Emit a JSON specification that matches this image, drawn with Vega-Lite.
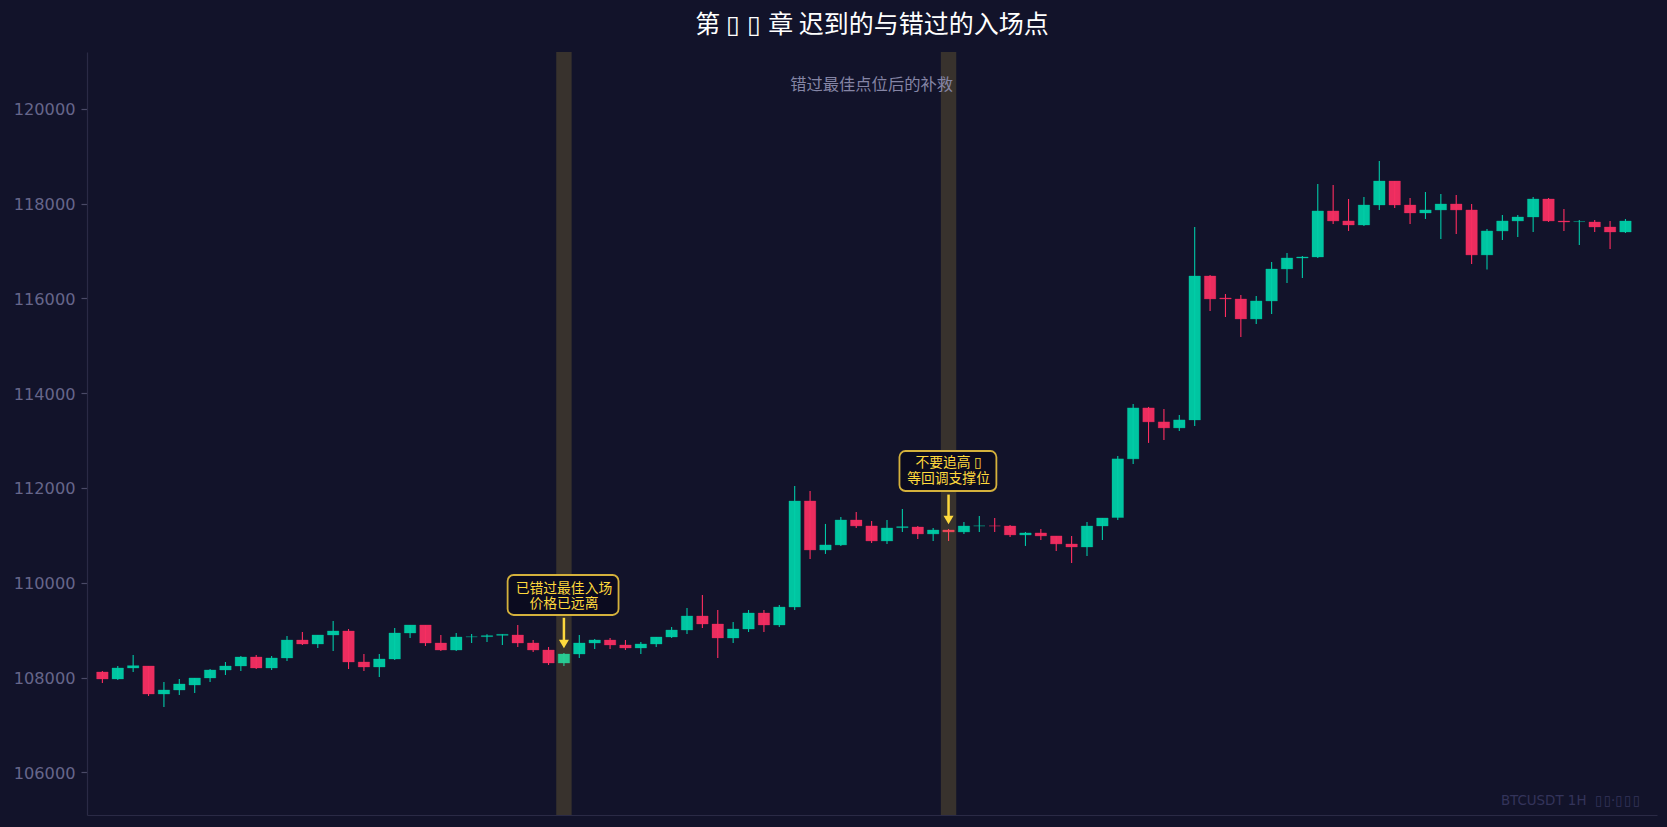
{
  "$schema": "https://vega.github.io/schema/vega-lite/v6.json",
  "width": 1570,
  "height": 763,
  "autosize": {"type": "none"},
  "padding": {"left": 87, "top": 52, "right": 10, "bottom": 12},
  "background": "#12132a",
  "title": {
    "text": "第 ▯\u200a ▯\u200a 章 迟到的与错过的入场点",
    "font": "Noto Sans CJK SC",
    "fontSize": 25,
    "fontWeight": "normal",
    "color": "#ffffff",
    "anchor": "middle",
    "offset": 14
  },
  "config": {"view": {"stroke": null}},
  "datasets": {
    "candles": [
      {"i": 0, "open": 108116, "high": 108137, "low": 107884, "close": 107969},
      {"i": 1, "open": 107969, "high": 108243, "low": 107948, "close": 108201},
      {"i": 2, "open": 108201, "high": 108475, "low": 108116, "close": 108250},
      {"i": 3, "open": 108243, "high": 108243, "low": 107610, "close": 107652},
      {"i": 4, "open": 107652, "high": 107906, "low": 107378, "close": 107737},
      {"i": 5, "open": 107737, "high": 107969, "low": 107631, "close": 107863},
      {"i": 6, "open": 107842, "high": 107990, "low": 107673, "close": 107990},
      {"i": 7, "open": 107990, "high": 108180, "low": 107906, "close": 108159},
      {"i": 8, "open": 108159, "high": 108327, "low": 108053, "close": 108243},
      {"i": 9, "open": 108243, "high": 108454, "low": 108137, "close": 108433},
      {"i": 10, "open": 108433, "high": 108475, "low": 108180, "close": 108201},
      {"i": 11, "open": 108201, "high": 108454, "low": 108159, "close": 108412},
      {"i": 12, "open": 108412, "high": 108876, "low": 108348, "close": 108791},
      {"i": 13, "open": 108791, "high": 108960, "low": 108686, "close": 108707},
      {"i": 14, "open": 108707, "high": 108897, "low": 108623, "close": 108897},
      {"i": 15, "open": 108897, "high": 109192, "low": 108559, "close": 108981},
      {"i": 16, "open": 108981, "high": 109023, "low": 108180, "close": 108327},
      {"i": 17, "open": 108327, "high": 108496, "low": 108137, "close": 108222},
      {"i": 18, "open": 108222, "high": 108496, "low": 108011, "close": 108391},
      {"i": 19, "open": 108391, "high": 109044, "low": 108369, "close": 108939},
      {"i": 20, "open": 108939, "high": 109108, "low": 108833, "close": 109108},
      {"i": 21, "open": 109108, "high": 109108, "low": 108665, "close": 108728},
      {"i": 22, "open": 108728, "high": 108897, "low": 108559, "close": 108580},
      {"i": 23, "open": 108580, "high": 108939, "low": 108559, "close": 108855},
      {"i": 24, "open": 108860, "high": 108918, "low": 108728, "close": 108860},
      {"i": 25, "open": 108862, "high": 108911, "low": 108749, "close": 108883},
      {"i": 26, "open": 108890, "high": 108911, "low": 108686, "close": 108911},
      {"i": 27, "open": 108897, "high": 109108, "low": 108644, "close": 108728},
      {"i": 28, "open": 108728, "high": 108791, "low": 108538, "close": 108580},
      {"i": 29, "open": 108580, "high": 108644, "low": 108264, "close": 108306},
      {"i": 30, "open": 108306, "high": 108517, "low": 108243, "close": 108496},
      {"i": 31, "open": 108496, "high": 108897, "low": 108412, "close": 108728},
      {"i": 32, "open": 108728, "high": 108813, "low": 108602, "close": 108791},
      {"i": 33, "open": 108791, "high": 108834, "low": 108602, "close": 108686},
      {"i": 34, "open": 108686, "high": 108791, "low": 108580, "close": 108623},
      {"i": 35, "open": 108623, "high": 108749, "low": 108496, "close": 108707},
      {"i": 36, "open": 108707, "high": 108855, "low": 108644, "close": 108855},
      {"i": 37, "open": 108855, "high": 109066, "low": 108834, "close": 109002},
      {"i": 38, "open": 109002, "high": 109466, "low": 108918, "close": 109298},
      {"i": 39, "open": 109298, "high": 109740, "low": 109045, "close": 109129},
      {"i": 40, "open": 109129, "high": 109424, "low": 108412, "close": 108834},
      {"i": 41, "open": 108834, "high": 109171, "low": 108728, "close": 109023},
      {"i": 42, "open": 109023, "high": 109424, "low": 108960, "close": 109361},
      {"i": 43, "open": 109361, "high": 109424, "low": 108960, "close": 109108},
      {"i": 44, "open": 109108, "high": 109530, "low": 109066, "close": 109487},
      {"i": 45, "open": 109487, "high": 112041, "low": 109424, "close": 111725},
      {"i": 46, "open": 111725, "high": 111936, "low": 110502, "close": 110691},
      {"i": 47, "open": 110691, "high": 111240, "low": 110607, "close": 110797},
      {"i": 48, "open": 110797, "high": 111387, "low": 110776, "close": 111324},
      {"i": 49, "open": 111324, "high": 111493, "low": 111155, "close": 111198},
      {"i": 50, "open": 111198, "high": 111303, "low": 110839, "close": 110881},
      {"i": 51, "open": 110881, "high": 111324, "low": 110818, "close": 111155},
      {"i": 52, "open": 111162, "high": 111556, "low": 111071, "close": 111183},
      {"i": 53, "open": 111176, "high": 111197, "low": 110923, "close": 111029},
      {"i": 54, "open": 111029, "high": 111155, "low": 110881, "close": 111113},
      {"i": 55, "open": 111113, "high": 111134, "low": 110881, "close": 111071},
      {"i": 56, "open": 111071, "high": 111282, "low": 111029, "close": 111197},
      {"i": 57, "open": 111200, "high": 111408, "low": 111071, "close": 111200},
      {"i": 58, "open": 111199, "high": 111366, "low": 111071, "close": 111198},
      {"i": 59, "open": 111197, "high": 111218, "low": 110966, "close": 111008},
      {"i": 60, "open": 111008, "high": 111071, "low": 110776, "close": 111050},
      {"i": 61, "open": 111050, "high": 111134, "low": 110902, "close": 110987},
      {"i": 62, "open": 110987, "high": 110987, "low": 110670, "close": 110818},
      {"i": 63, "open": 110817, "high": 110986, "low": 110417, "close": 110754},
      {"i": 64, "open": 110754, "high": 111281, "low": 110564, "close": 111197},
      {"i": 65, "open": 111197, "high": 111366, "low": 110902, "close": 111366},
      {"i": 66, "open": 111375, "high": 112676, "low": 111326, "close": 112613},
      {"i": 67, "open": 112613, "high": 113773, "low": 112507, "close": 113688},
      {"i": 68, "open": 113688, "high": 113709, "low": 112950, "close": 113393},
      {"i": 69, "open": 113393, "high": 113667, "low": 113013, "close": 113266},
      {"i": 70, "open": 113266, "high": 113541, "low": 113203, "close": 113435},
      {"i": 71, "open": 113435, "high": 117506, "low": 113309, "close": 116472},
      {"i": 72, "open": 116472, "high": 116493, "low": 115734, "close": 115987},
      {"i": 73, "open": 116008, "high": 116092, "low": 115607, "close": 115987},
      {"i": 74, "open": 115987, "high": 116071, "low": 115186, "close": 115565},
      {"i": 75, "open": 115565, "high": 116050, "low": 115460, "close": 115945},
      {"i": 76, "open": 115945, "high": 116767, "low": 115671, "close": 116620},
      {"i": 77, "open": 116620, "high": 116957, "low": 116325, "close": 116852},
      {"i": 78, "open": 116852, "high": 116895, "low": 116430, "close": 116873},
      {"i": 79, "open": 116873, "high": 118413, "low": 116852, "close": 117844},
      {"i": 80, "open": 117844, "high": 118392, "low": 117569, "close": 117633},
      {"i": 81, "open": 117633, "high": 118097, "low": 117422, "close": 117548},
      {"i": 82, "open": 117548, "high": 118139, "low": 117527, "close": 117970},
      {"i": 83, "open": 117970, "high": 118898, "low": 117865, "close": 118476},
      {"i": 84, "open": 118476, "high": 118476, "low": 117907, "close": 117970},
      {"i": 85, "open": 117970, "high": 118118, "low": 117569, "close": 117801},
      {"i": 86, "open": 117801, "high": 118244, "low": 117675, "close": 117865},
      {"i": 87, "open": 117865, "high": 118202, "low": 117253, "close": 117991},
      {"i": 88, "open": 117991, "high": 118181, "low": 117359, "close": 117865},
      {"i": 89, "open": 117865, "high": 117991, "low": 116726, "close": 116916},
      {"i": 90, "open": 116916, "high": 117464, "low": 116610, "close": 117422},
      {"i": 91, "open": 117422, "high": 117759, "low": 117232, "close": 117633},
      {"i": 92, "open": 117633, "high": 117759, "low": 117295, "close": 117717},
      {"i": 93, "open": 117717, "high": 118139, "low": 117401, "close": 118097},
      {"i": 94, "open": 118097, "high": 118118, "low": 117612, "close": 117633},
      {"i": 95, "open": 117632, "high": 117885, "low": 117421, "close": 117611},
      {"i": 96, "open": 117620, "high": 117653, "low": 117126, "close": 117620},
      {"i": 97, "open": 117611, "high": 117653, "low": 117400, "close": 117506},
      {"i": 98, "open": 117506, "high": 117632, "low": 117042, "close": 117400},
      {"i": 99, "open": 117400, "high": 117675, "low": 117379, "close": 117632}
    ],
    "zones": [
      {"start": 29.5, "end": 30.5},
      {"start": 54.5, "end": 55.5}
    ]
  },
  "layer": [
    {
      "data": {"name": "candles"},
      "mark": {"type": "rule", "strokeWidth": 1.1},
      "encoding": {
        "x": {
          "field": "i",
          "type": "quantitative",
          "scale": {"domain": [-1, 101.05], "nice": false, "zero": false, "padding": 0},
          "axis": {
            "title": null,
            "labels": false,
            "ticks": false,
            "grid": false,
            "domainColor": "#2a2a45",
            "domainWidth": 1.2
          }
        },
        "y": {
          "field": "low",
          "type": "quantitative",
          "scale": {"domain": [105099, 121198], "nice": false, "zero": false},
          "axis": {
            "title": null,
            "values": [106000, 108000, 110000, 112000, 114000, 116000, 118000, 120000],
            "format": "d",
            "grid": false,
            "labelFont": "DejaVu Sans",
            "labelFontSize": 16.2,
            "labelColor": "#66668a",
            "labelPadding": 6,
            "labelOffset": 1,
            "tickColor": "#4a4a66",
            "tickSize": 6,
            "tickWidth": 1.2,
            "domainColor": "#2a2a45",
            "domainWidth": 1.2
          }
        },
        "y2": {"field": "high"},
        "color": {
          "condition": {"test": "datum.close >= datum.open", "value": "#00c9a7"},
          "value": "#ff2d60"
        }
      }
    },
    {
      "data": {"name": "candles"},
      "mark": {"type": "bar", "width": 11.5, "opacity": 0.95, "strokeWidth": 1, "strokeOpacity": 0.3},
      "encoding": {
        "x": {"field": "i", "type": "quantitative"},
        "y": {"field": "open", "type": "quantitative"},
        "y2": {"field": "close"},
        "fill": {
          "condition": {"test": "datum.close >= datum.open", "value": "#00cfa8"},
          "value": "#f72f62"
        },
        "stroke": {
          "condition": {"test": "datum.close >= datum.open", "value": "#00cfa8"},
          "value": "#f72f62"
        }
      }
    },
    {
      "data": {"name": "zones"},
      "mark": {"type": "rect", "color": "#ffd93d", "opacity": 0.16},
      "encoding": {
        "x": {"field": "start", "type": "quantitative"},
        "x2": {"field": "end"}
      }
    },
    {
      "data": {"values": [{"label": "错过最佳点位后的补救"}]},
      "mark": {
        "type": "text",
        "font": "Noto Sans CJK SC",
        "fontSize": 16.3,
        "color": "#8585a5",
        "align": "center",
        "baseline": "middle"
      },
      "encoding": {
        "x": {"datum": 50},
        "y": {"datum": 120500},
        "text": {"field": "label"}
      }
    },
    {
      "data": {"values": [{"label": "BTCUSDT 1H\u00a0\u00a0▯\u200a▯·▯\u200a▯\u200a▯"}]},
      "mark": {
        "type": "text",
        "font": "DejaVu Sans",
        "fontSize": 13.4,
        "color": "#34345a",
        "align": "right",
        "baseline": "middle"
      },
      "encoding": {
        "x": {"datum": 99.95},
        "y": {"datum": 105394},
        "text": {"field": "label"}
      }
    },
    {
      "data": {"values": [{}]},
      "mark": {
        "type": "rect",
        "fill": "#0b0b1f",
        "stroke": "#d4b13c",
        "strokeWidth": 1.8,
        "cornerRadius": 6
      },
      "encoding": {
        "x": {"datum": 26.34},
        "x2": {"datum": 33.55},
        "y": {"datum": 110163},
        "y2": {"datum": 109319}
      }
    },
    {
      "data": {"values": [{}]},
      "mark": {
        "type": "rect",
        "fill": "#0b0b1f",
        "stroke": "#d4b13c",
        "strokeWidth": 1.8,
        "cornerRadius": 6
      },
      "encoding": {
        "x": {"datum": 51.81},
        "x2": {"datum": 58.11},
        "y": {"datum": 112779},
        "y2": {"datum": 111935}
      }
    },
    {
      "data": {"values": [{"label": "已错过最佳入场\n价格已远离"}]},
      "mark": {
        "type": "text",
        "font": "Noto Sans CJK SC",
        "fontSize": 13.8,
        "lineBreak": "\n",
        "lineHeight": 15,
        "color": "#ffd93d",
        "align": "center",
        "baseline": "middle"
      },
      "encoding": {
        "x": {"datum": 30},
        "y": {"datum": 109867},
        "text": {"field": "label"}
      }
    },
    {
      "data": {"values": [{"label": "不要追高 ▯\n等回调支撑位"}]},
      "mark": {
        "type": "text",
        "font": "Noto Sans CJK SC",
        "fontSize": 13.8,
        "lineBreak": "\n",
        "lineHeight": 16,
        "color": "#ffd93d",
        "align": "center",
        "baseline": "middle"
      },
      "encoding": {
        "x": {"datum": 55},
        "y": {"datum": 112526},
        "text": {"field": "label"}
      }
    },
    {
      "data": {"values": [{}]},
      "mark": {"type": "rule", "color": "#ffd93d", "strokeWidth": 2.5},
      "encoding": {
        "x": {"datum": 30},
        "y": {"datum": 109260},
        "y2": {"datum": 108791}
      }
    },
    {
      "data": {"values": [{}]},
      "mark": {"type": "rule", "color": "#ffd93d", "strokeWidth": 2.5},
      "encoding": {
        "x": {"datum": 55},
        "y": {"datum": 111860},
        "y2": {"datum": 111408}
      }
    },
    {
      "data": {"values": [{}]},
      "mark": {"type": "point", "shape": "triangle-down", "filled": true, "size": 100, "opacity": 1, "color": "#ffd93d"},
      "encoding": {
        "x": {"datum": 30},
        "y": {"datum": 108707}
      }
    },
    {
      "data": {"values": [{}]},
      "mark": {"type": "point", "shape": "triangle-down", "filled": true, "size": 100, "opacity": 1, "color": "#ffd93d"},
      "encoding": {
        "x": {"datum": 55},
        "y": {"datum": 111323}
      }
    }
  ]
}
